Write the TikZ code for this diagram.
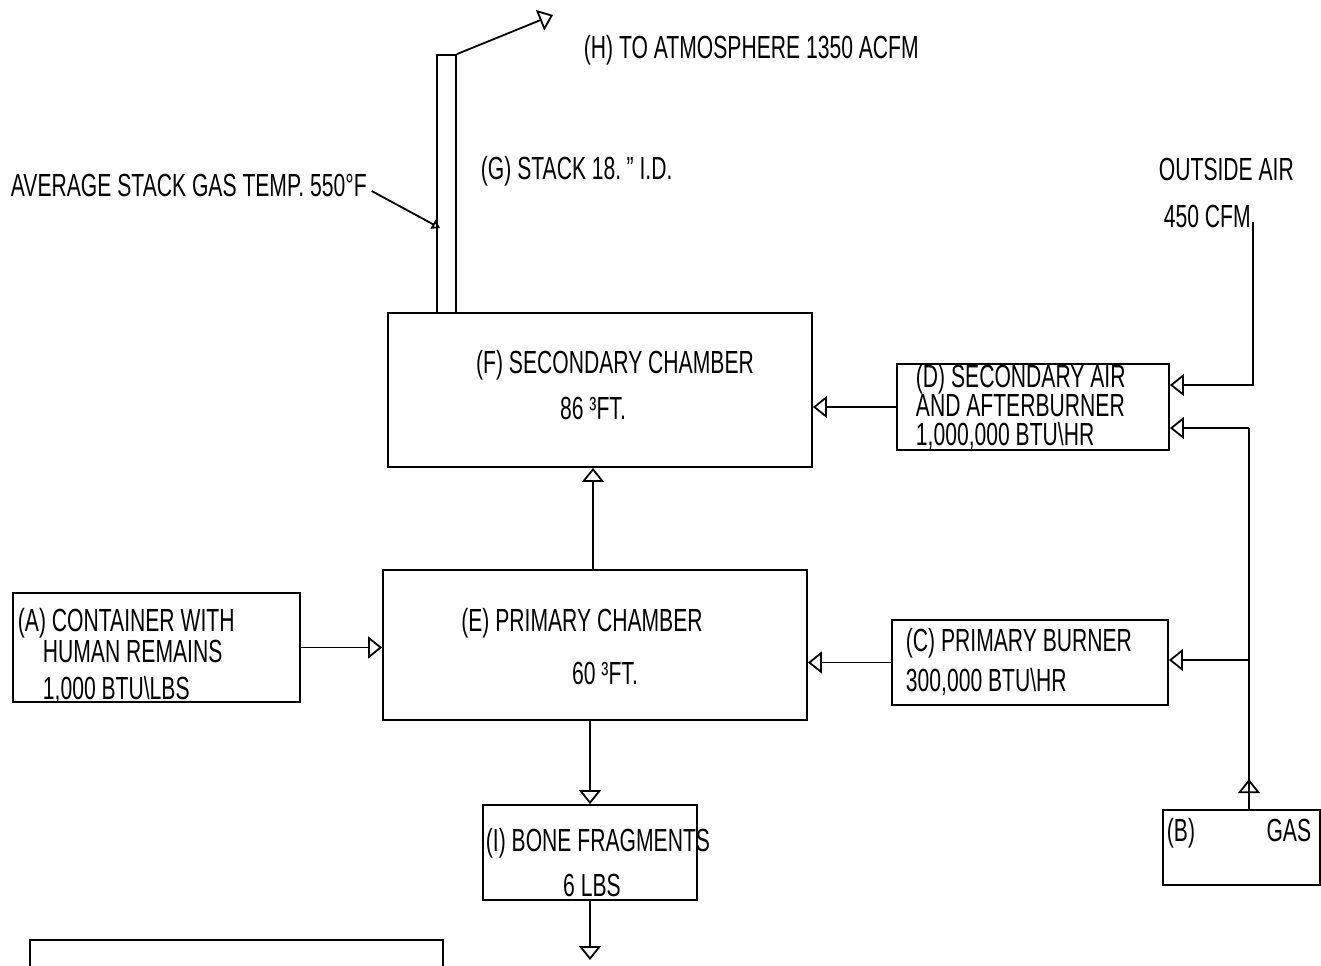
\documentclass[tikz,border=0pt]{standalone}
\usepackage{fontspec}
\setmainfont{Liberation Sans}[FakeStretch=0.66]
\usetikzlibrary{arrows.meta,calc}

\begin{document}
\begin{tikzpicture}[x=0.5pt, y=-0.5pt, >={Triangle[open, length=7pt, width=11pt]},
  font=\fontsize{16}{18}\selectfont, line width=0.9pt,
  box/.style={draw, line width=0.9pt, inner sep=0pt},
  lbl/.style={inner sep=0pt, anchor=west, text height=11.5pt, text depth=0.5pt},
  ctr/.style={inner sep=0pt, text height=11.5pt, text depth=0.5pt}]
\useasboundingbox (0,0) rectangle (1321,965);
% boxes
\node[box, minimum width=212pt, minimum height=77pt] (F) at (600,390) {};
\node[box, minimum width=212pt, minimum height=75pt] (E) at (595,645) {};
\node[box, minimum width=143.5pt, minimum height=54.5pt] (A) at (156.5,647.5) {};
\node[box, minimum width=138pt, minimum height=42.5pt] (C) at (1030,662.5) {};
\node[box, minimum width=136pt, minimum height=43pt] (D) at (1033,407) {};
\node[box, minimum width=107pt, minimum height=47.5pt] (I) at (590,852.5) {};
\node[box, minimum width=78.5pt, minimum height=37.5pt] (B) at (1241.5,847.5) {};
\node[box, minimum width=206.5pt, minimum height=30pt] (K) at (236.5,970) {};
\node[box, minimum width=9.5pt, minimum height=129pt] (stack) at (446.5,184) {};
% texts
\node[ctr] (Ft1) at (615,362) {(F) SECONDARY CHAMBER};
\node[ctr] (Ft2) at (593,408) {86 ³FT.};
\node[ctr] (Et1) at (582,620) {(E) PRIMARY CHAMBER};
\node[ctr] (Et2) at (605,673) {60 ³FT.};
\node[lbl] (At1) at (17,620) {(A) CONTAINER WITH};
\node[lbl] (At2) at (42,651) {HUMAN REMAINS};
\node[lbl] (At3) at (42,688) {1,000 BTU\textbackslash LBS};
\node[lbl] (Dt1) at (915,376) {(D) SECONDARY AIR};
\node[lbl] (Dt2) at (915,405) {AND AFTERBURNER};
\node[lbl] (Dt3) at (915,434) {1,000,000 BTU\textbackslash HR};
\node[lbl] (Ct1) at (905,640) {(C) PRIMARY BURNER};
\node[lbl] (Ct2) at (905,680) {300,000 BTU\textbackslash HR};
\node[lbl] (It1) at (485,840) {(I) BONE FRAGMENTS};
\node[ctr] (It2) at (592,885) {6 LBS};
\node[lbl] (Bt1) at (1166,830) {(B)};
\node[lbl, anchor=east] (Bt2) at (1312,830) {GAS};
\node[lbl] (H) at (583,47) {(H) TO ATMOSPHERE 1350 ACFM};
\node[lbl] (G) at (480,168) {(G) STACK 18.\,{\char"0022} I.D.};
\node[lbl] (avg) at (10,185) {AVERAGE STACK GAS TEMP. 550°F};
\node[lbl] (oat) at (1158,169) {OUTSIDE AIR};
\node[lbl] (cfm) at (1163,216) {450 CFM};
% free ends
\coordinate (top) at (553,15);
\coordinate (tmp) at (440,228);
\coordinate (oa) at (1253,222);
\coordinate (j1) at (1249,660);
\coordinate (j2) at (1249,428);
\coordinate (out) at (590,960);
% connectors
\draw[->] (stack.north east) -- (top);
\draw[-{Triangle[open, length=4pt, width=5pt]}] ($(avg.east)+(4,6)$) -- (tmp);
\draw[->] (oa) |- ($(D.east)+(0,-22)$);
\draw (j1 |- B.north) -- (j2);
\draw[->] (j1 |- B.north) -- ++(0,-30);
\draw[->] (j2) -- ($(D.east)+(0,21)$);
\draw[->] (j1) -- (j1 -| C.east);
\draw[->] (D.west) -- (D.west -| F.east);
\draw[->] (C.west) -- (C.west -| E.east);
\draw[->] (A.east) -- (A.east -| E.west);
\draw[->] (E.north -| 593,0) -- (F.south -| 593,0);
\draw[->] (I.north |- E.south) -- (I.north);
\draw[->] (I.south) -- (out);
\end{tikzpicture}
\end{document}
